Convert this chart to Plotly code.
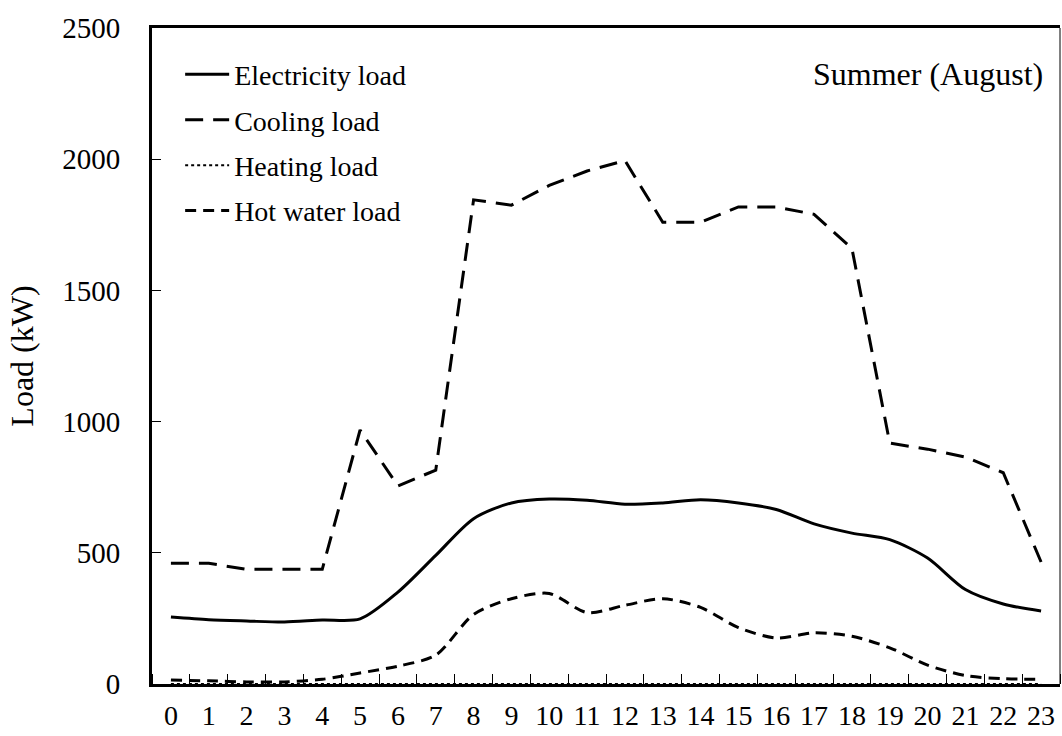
import plotly.graph_objects as go

hours = list(range(24))
hour_labels = [str(h) for h in hours]

electricity_load = [255, 245, 240, 236, 244, 248, 350, 490, 630, 690, 705, 700, 685,
                    690, 702, 690, 665, 610, 575, 550, 480, 360, 305, 278]
cooling_load = [460, 460, 437, 437, 437, 968, 755, 815, 1845, 1825, 1900, 1955, 1995,
                1760, 1760, 1818, 1818, 1790, 1660, 918, 895, 865, 805, 465]
heating_load = [0] * 24
hot_water_load = [15, 12, 8, 8, 18, 42, 68, 110, 265, 325, 345, 272, 300,
                  325, 292, 215, 175, 195, 182, 138, 72, 32, 20, 18]

font_family = "Liberation Serif, Times New Roman, serif"

fig = go.Figure()
series = [
    ("Electricity load", electricity_load, dict(color="black", width=3, dash="solid", shape="spline", smoothing=0.8)),
    ("Cooling load", cooling_load, dict(color="black", width=3, dash="18px,10px")),
    ("Heating load", heating_load, dict(color="black", width=2, dash="3px,3px")),
    ("Hot water load", hot_water_load, dict(color="black", width=3, dash="11px,7px", shape="spline", smoothing=0.8)),
]
for name, vals, line in series:
    fig.add_trace(go.Scatter(x=hours, y=vals, mode="lines", name=name, line=line,
                             legendgroup=name))

fig.update_layout(
    width=1062, height=736,
    margin=dict(l=152, r=2, t=28, b=52, autoexpand=False),
    paper_bgcolor="white", plot_bgcolor="white",
    font=dict(family=font_family, color="black", size=28),
    showlegend=True,
    legend=dict(x=0.031, y=0.967, xanchor="left", yanchor="top",
                font=dict(size=28, family=font_family), tracegroupgap=6,
                bgcolor="rgba(0,0,0,0)", itemwidth=44),
    xaxis=dict(
        range=[-0.5, 23.5], tickmode="array", tickvals=hours, ticktext=hour_labels,
        ticks="", showgrid=False, zeroline=False, ticklabelstandoff=4, automargin=False,
        showline=True, linecolor="black", linewidth=3, mirror=True,
        tickfont=dict(size=28, family=font_family),
        minor=dict(ticks="inside", tick0=-0.5, dtick=1, ticklen=10, tickcolor="black",
                   tickwidth=1, showgrid=False),
    ),
    yaxis=dict(
        range=[0, 2500], dtick=500, ticks="inside", ticklen=9, tickcolor="black",
        showgrid=False, zeroline=False, showline=True, linecolor="black", linewidth=3,
        mirror=False, tickfont=dict(size=29, family=font_family), ticklabelstandoff=23,
        automargin=False,
        title=dict(text="Load (kW)", font=dict(size=32, family=font_family), standoff=20),
    ),
    shapes=[dict(type="line", xref="paper", yref="paper", x0=1, x1=1, y0=0, y1=1,
                 line=dict(color="black", width=1))],
    annotations=[dict(text="Summer (August)", xref="paper", yref="paper", x=0.983, y=0.93,
                      xanchor="right", yanchor="middle", showarrow=False,
                      font=dict(size=32, family=font_family))],
)

fig.write_html("out.html")
